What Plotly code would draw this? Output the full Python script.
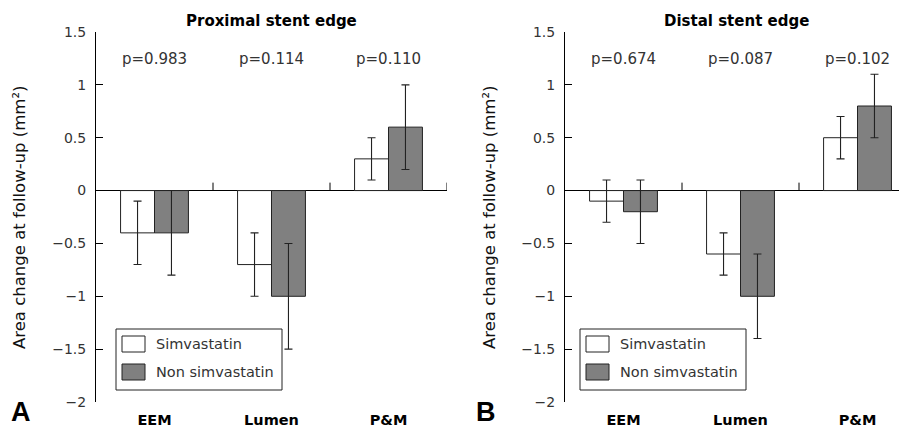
import plotly.graph_objects as go

categories = ["EEM", "Lumen", "P&M"]
prox_sim = [-0.4, -0.7, 0.3]
prox_sim_err = [0.3, 0.3, 0.2]
prox_non = [-0.4, -1.0, 0.6]
prox_non_err = [0.4, 0.5, 0.4]
dist_sim = [-0.1, -0.6, 0.5]
dist_sim_err = [0.2, 0.2, 0.2]
dist_non = [-0.2, -1.0, 0.8]
dist_non_err = [0.3, 0.4, 0.3]
prox_p = ["p=0.983", "p=0.114", "p=0.110"]
dist_p = ["p=0.674", "p=0.087", "p=0.102"]
series_names = ["Simvastatin", "Non simvastatin"]
ytick_vals = [1.5, 1, 0.5, 0, -0.5, -1, -1.5, -2]
ytick_text = ["1.5", "1", "0.5", "0", "\u22120.5", "\u22121", "\u22121.5", "\u22122"]

W, H = 907, 426
OFF = 8  # page body margin offset
# plot area in screen pixels
TOP_S, BOT_S = 32, 402
T = TOP_S - OFF
B = H - (BOT_S - OFF)
FONT = "DejaVu Sans"

def px(x):
    return (x - OFF) / W

def py(y):
    return ((BOT_S - OFF) - (y - OFF)) / (BOT_S - TOP_S)

fig = go.Figure()

def add_bars(sim, sim_err, non, non_err, xa, ya):
    fig.add_trace(go.Bar(x=categories, y=sim, name=series_names[0], xaxis=xa, yaxis=ya,
                         marker=dict(color="white", line=dict(color="#222", width=1)),
                         error_y=dict(type="data", array=sim_err, color="#222", thickness=1.1, width=4),
                         showlegend=False))
    fig.add_trace(go.Bar(x=categories, y=non, name=series_names[1], xaxis=xa, yaxis=ya,
                         marker=dict(color="#808080", line=dict(color="#222", width=1)),
                         error_y=dict(type="data", array=non_err, color="#222", thickness=1.1, width=4),
                         showlegend=False))

add_bars(prox_sim, prox_sim_err, prox_non, prox_non_err, "x", "y")
add_bars(dist_sim, dist_sim_err, dist_non, dist_non_err, "x2", "y2")

xcommon = dict(showline=False, ticks="", showgrid=False, zeroline=False, fixedrange=True,
               tickvals=categories, ticktext=["<b>%s</b>" % c for c in categories],
               tickfont=dict(family=FONT, size=14.5, color="black"), type="category",
               automargin=False, ticklabelstandoff=7)
ycommon = dict(range=[-2, 1.5], showline=True, linecolor="black", linewidth=1, ticks="inside",
               ticklen=7, tickcolor="black", tickvals=ytick_vals, ticktext=ytick_text,
               tickfont=dict(family=FONT, size=14, color="#333"), showgrid=False,
               zeroline=True, zerolinecolor="black", zerolinewidth=1, fixedrange=True,
               ticklabelstandoff=6, automargin=False)

fig.update_layout(
    width=W, height=H, margin=dict(l=0, r=0, t=T, b=B, autoexpand=False),
    paper_bgcolor="white", plot_bgcolor="white",
    barmode="group", bargap=0.42, bargroupgap=0,
    xaxis=dict(domain=[px(96), px(447)], range=[-0.5, 2.5], anchor="y", **xcommon),
    yaxis=dict(domain=[0, 1], anchor="x", **ycommon),
    xaxis2=dict(domain=[px(565), px(907)], range=[-0.5, 2.423], anchor="y2", **xcommon),
    yaxis2=dict(domain=[0, 1], anchor="x2", **ycommon),
    showlegend=False,
)

shapes = []
annotations = []
# category boundary ticks on the zero line
for xa, ya, bounds in (("x", "y", [0.5, 1.5, 2.5]), ("x2", "y2", [0.5, 1.5])):
    for b in bounds:
        shapes.append(dict(type="line", xref=xa, yref=ya, x0=b, x1=b, y0=0, y1=0.075,
                           line=dict(color="black", width=1)))

# p-values
for xa, ya, labels in (("x", "y", prox_p), ("x2", "y2", dist_p)):
    for c, t in zip(categories, labels):
        annotations.append(dict(xref=xa, yref=ya, x=c, y=1.24, text=t, showarrow=False,
                                xanchor="center", yanchor="middle",
                                font=dict(family=FONT, size=15, color="#333")))

def ann(x, y, text, size, family=FONT, color="black", angle=0, xanchor="center"):
    annotations.append(dict(xref="paper", yref="paper", x=px(x), y=py(y), text=text,
                            showarrow=False, xanchor=xanchor, yanchor="middle", textangle=angle,
                            font=dict(family=family, size=size, color=color)))

# titles
ann(271, 21, "<b>Proximal stent edge</b>", 15)
ann(736, 21, "<b>Distal stent edge</b>", 15)
# y titles
for xc in (19, 489):
    ann(xc, 218, "Area change at follow-up (mm\u00b2)", 16.5, angle=-90, color="#111")
# panel letters
ann(21, 412, "<b>A</b>", 27, family="Liberation Sans")
ann(486, 412, "<b>B</b>", 27, family="Liberation Sans")

# legends
for bx0, bx1, rx0, rx1, tx in ((116, 282, 122, 145, 154), (580, 746, 586, 609, 618)):
    shapes.append(dict(type="rect", xref="paper", yref="paper", x0=px(bx0), x1=px(bx1),
                       y0=py(390), y1=py(329), line=dict(color="#222", width=1), fillcolor="white"))
    for (ry0, ry1, fill, name) in ((336, 352, "white", series_names[0]), (364, 380, "#808080", series_names[1])):
        shapes.append(dict(type="rect", xref="paper", yref="paper", x0=px(rx0), x1=px(rx1),
                           y0=py(ry1), y1=py(ry0), line=dict(color="#222", width=1), fillcolor=fill))
        ann(tx, (ry0 + ry1) / 2, name, 14.5, color="#333", xanchor="left")

fig.update_layout(shapes=shapes, annotations=annotations)
fig.write_html("out.html")
